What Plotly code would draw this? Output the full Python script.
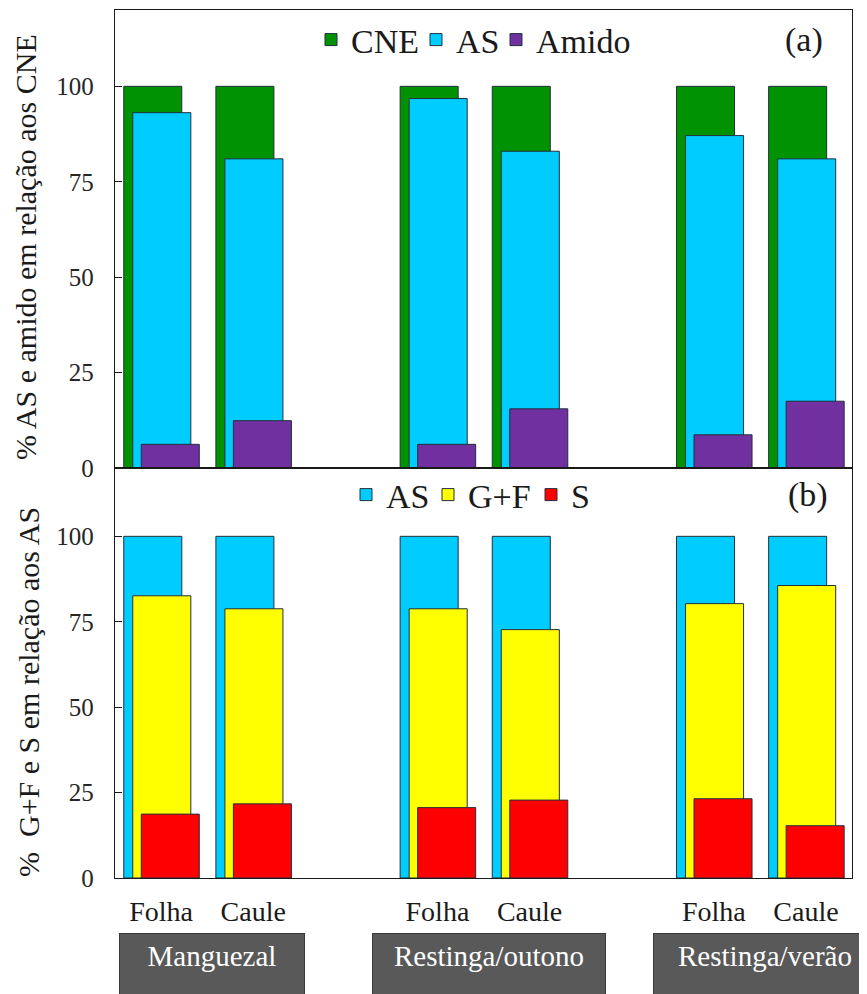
import plotly.graph_objects as go
from plotly.subplots import make_subplots

# ---- data ----
groups = ["Manguezal", "Restinga/outono", "Restinga/verão"]
organs = ["Folha", "Caule"]

cne = [100, 100, 100, 100, 100, 100]
as_a = [93.1, 81.0, 96.8, 83.0, 87.1, 81.0]
amido = [6.2, 12.4, 6.2, 15.5, 8.7, 17.5]

as_b = [100, 100, 100, 100, 100, 100]
gf = [82.6, 78.8, 78.8, 72.7, 80.3, 85.6]
s_ = [18.7, 21.7, 20.6, 22.8, 23.2, 15.3]

yticks = [0, 25, 50, 75, 100]
ytitle_a = "% AS e amido em relação aos CNE"
ytitle_b = "%  G+F e S em relação aos AS"

# positions: each group occupies 3 slots (2 organs + a gap)
xpos = [g * 3 + o for g in range(len(groups)) for o in range(len(organs))]
ticktext = organs * len(groups)

FONT = "Liberation Serif, Times New Roman, Tinos, serif"
LINE = dict(color="#22303c", width=1)
W = 0.63
OFFS = [-0.405, -0.307, -0.215]

fig = make_subplots(rows=2, cols=1, shared_xaxes=True, vertical_spacing=0,
                    row_heights=[458, 410])

# page offset (body margin) compensation
OX, OY = 8, 8
FW, FH = 867 - OX, 994 - OY
# target plot area in page px: x 115..852, y 10..878
L, R = 115 - OX, FW - (852 - OX)
T, B = 10 - OY, FH - (878 - OY)
PW, PH = FW - L - R, FH - T - B


def px2x(px):
    return (px - OX - L) / PW


def py2y(py):
    return (FH - B - (py - OY)) / PH


top = [("CNE", cne, "#009200"), ("AS", as_a, "#00CCFF"), ("Amido", amido, "#7030A0")]
bot = [("AS", as_b, "#00CCFF"), ("G+F", gf, "#FFFF00"), ("S", s_, "#FF0000")]
# legend text start (page px) for each entry
leg_top_x = [352, 457, 537]
leg_bot_x = [387, 469, 572]

legends = {}
k = 1
for row, series, lx, ly in [(1, top, leg_top_x, 40), (2, bot, leg_bot_x, 495)]:
    for (name, vals, col), off, tx in zip(series, OFFS, lx):
        lname = "legend" if k == 1 else f"legend{k}"
        fig.add_trace(go.Bar(x=xpos, y=vals, name=name, width=W, offset=off,
                             marker=dict(color=col, line=LINE), legend=lname),
                      row=row, col=1)
        legends[lname] = dict(orientation="h", x=px2x(tx - 41), y=py2y(ly),
                              xanchor="left", yanchor="middle",
                              font=dict(size=34, family=FONT, color="#1a1a1a"),
                              bgcolor="rgba(0,0,0,0)", itemclick=False)
        k += 1

fig.update_layout(
    width=FW, height=FH,
    margin=dict(l=L, r=R, t=T, b=B, autoexpand=False),
    barmode="overlay",
    plot_bgcolor="white", paper_bgcolor="white",
    font=dict(family=FONT, color="#1a1a1a"),
    showlegend=True,
    **legends,
)

fig.update_xaxes(range=[-0.5, 7.5], showline=True, mirror=True, linecolor="#1a1a1a",
                 linewidth=1.3, ticks="", showgrid=False, zeroline=False,
                 tickvals=xpos, ticktext=ticktext,
                 tickfont=dict(size=28, family=FONT, color="#1a1a1a"))
fig.update_xaxes(ticklabelstandoff=8, row=2, col=1)

fig.update_yaxes(range=[0, 120], tickvals=yticks, ticks="inside", ticklen=7,
                 tickcolor="#1a1a1a", tickwidth=1, showline=True, mirror=True,
                 linecolor="#1a1a1a", linewidth=1.3, showgrid=False, zeroline=False,
                 tickfont=dict(size=25, family=FONT, color="#262626"),
                 ticklabelstandoff=15)

# y-axis titles
fig.add_annotation(text=ytitle_a, xref="paper", yref="paper", x=px2x(25), y=py2y(247),
                   xanchor="center", yanchor="middle", textangle=-90, showarrow=False,
                   font=dict(size=30, family=FONT, color="#1a1a1a"))
fig.add_annotation(text=ytitle_b, xref="paper", yref="paper", x=px2x(28), y=py2y(692),
                   xanchor="center", yanchor="middle", textangle=-90, showarrow=False,
                   font=dict(size=30, family=FONT, color="#1a1a1a"))

fig.add_annotation(text="(a)", xref="paper", yref="paper", x=px2x(804), y=py2y(40),
                   xanchor="center", yanchor="middle",
                   showarrow=False, font=dict(size=34, family=FONT, color="#1a1a1a"))
fig.add_annotation(text="(b)", xref="paper", yref="paper", x=px2x(808), y=py2y(495),
                   xanchor="center", yanchor="middle",
                   showarrow=False, font=dict(size=34, family=FONT, color="#1a1a1a"))

box_w = [172, 220, 210]
for g, (name, bw) in enumerate(zip(groups, box_w)):
    fig.add_annotation(text=name, xref="x2", yref="paper", x=g * 3 + 0.5, xshift=5,
                       y=py2y(933), yanchor="top", showarrow=False,
                       width=bw, height=70, valign="top", align="center",
                       bgcolor="#595959", bordercolor="#3a3a3a", borderwidth=1, borderpad=6,
                       font=dict(size=29, family=FONT, color="white"))

fig.write_html("out.html")
